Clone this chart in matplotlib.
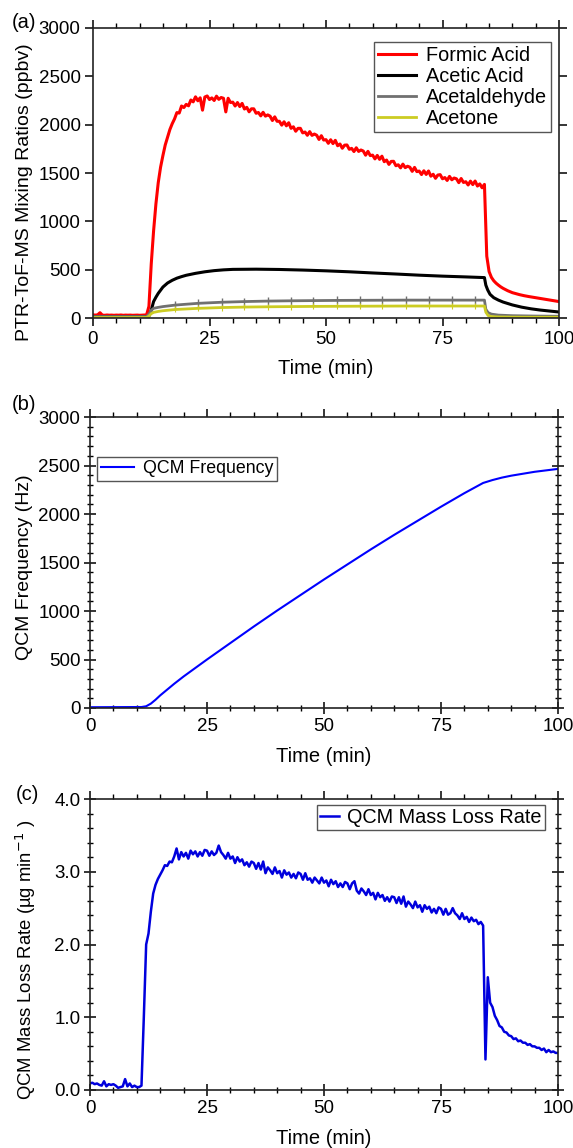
import numpy as np
import matplotlib
matplotlib.use("Agg")
import matplotlib.pyplot as plt
from matplotlib.ticker import MultipleLocator, FormatStrFormatter

plt.rcParams['font.family'] = ['Liberation Sans', 'DejaVu Sans']
FS_TICK = 13.5
FS_LAB = 14.5
FS_LEG = 14.3

# ---------------- Panel (a) data ----------------
time_fine = np.arange(0, 100.01, 0.5)   # 0.5-min grid, 201 points

formic = [
    32, 30, 33, 55, 30, 28, 31, 29, 30, 28,
    30, 29, 31, 28, 30, 29, 30, 28, 29, 30,
    28, 29, 30, 32, 120, 560, 900, 1180, 1400, 1560,
    1680, 1790, 1870, 1950, 2010, 2060, 2125, 2120, 2193, 2177,
    2210, 2195, 2255, 2236, 2288, 2247, 2278, 2150, 2286, 2297,
    2260, 2277, 2250, 2295, 2262, 2281, 2273, 2132, 2273, 2229,
    2233, 2193, 2229, 2187, 2220, 2162, 2179, 2133, 2164, 2164,
    2118, 2126, 2091, 2128, 2088, 2101, 2088, 2043, 2081, 2035,
    2035, 1995, 2030, 1988, 2020, 1962, 1978, 1932, 1962, 1962,
    1915, 1924, 1890, 1928, 1889, 1903, 1891, 1847, 1886, 1841,
    1845, 1807, 1844, 1804, 1838, 1782, 1800, 1756, 1788, 1790,
    1745, 1755, 1722, 1761, 1723, 1738, 1727, 1684, 1724, 1680,
    1685, 1646, 1682, 1641, 1674, 1617, 1634, 1589, 1620, 1621,
    1575, 1585, 1553, 1592, 1555, 1570, 1560, 1517, 1558, 1514,
    1520, 1484, 1523, 1485, 1521, 1467, 1487, 1445, 1479, 1483,
    1440, 1453, 1423, 1465, 1430, 1448, 1440, 1400, 1443, 1402,
    1410, 1376, 1416, 1380, 1417, 1365, 1387, 1347, 1382, 640,
    480, 420, 385, 360, 340, 322, 307, 294, 282, 272,
    262, 255, 248, 242, 236, 231, 226, 222, 218, 214,
    210, 206, 202, 198, 194, 190, 186, 182, 178, 174,
    170,
]

acetic_time = [0, 5, 10, 11.5, 12, 12.5, 13, 13.5, 14, 15, 16, 17, 18, 19, 20,
               22, 24, 26, 28, 30, 35, 40, 45, 50, 55, 60, 65, 70, 75, 80, 84,
               84.3, 84.7, 85.2, 86, 87, 88, 90, 92, 94, 96, 98, 100]
acetic = [14, 13, 14, 14, 20, 80, 170, 215, 255, 320, 362, 390, 412, 428, 442,
          462, 478, 490, 498, 503, 505, 502, 496, 488, 478, 466, 455, 443, 433, 425, 418,
          340, 290, 245, 210, 185, 165, 135, 112, 95, 82, 72, 62]

ald_time = [0, 11.5, 12, 12.5, 13, 14, 15, 17.7, 22.6, 27.6, 32.5, 37.5, 42.4,
            47.3, 52.3, 57.2, 62.1, 67.1, 72.0, 77.0, 81.9, 84, 84.3, 84.8, 85.5,
            87, 90, 95, 100]
acetaldehyde = [15, 15, 40, 80, 100, 110, 118, 134, 152, 163, 170, 175, 178,
                180, 182, 183, 184, 185, 185, 185, 185, 185, 90, 55, 40,
                30, 24, 20, 18]
acetone = [5, 5, 20, 45, 58, 68, 75, 88, 100, 108, 113, 116, 118,
           120, 121, 122, 123, 124, 124, 124, 124, 124, 60, 25, 15,
           11, 9, 8, 8]
marker_times = [17.7, 22.6, 27.6, 32.5, 37.5, 42.4, 47.3, 52.3, 57.2, 62.1,
                67.1, 72.0, 77.0, 81.9]

# ---------------- Panel (b) data ----------------
freq_time = [0, 5, 10, 11, 12, 13, 14, 15, 16, 17, 18, 20, 25, 30, 35, 40, 45,
             50, 55, 60, 65, 70, 75, 80, 84, 86, 88, 90, 95, 100]
qcm_freq = [8, 9, 10, 10, 18, 45, 85, 130, 170, 210, 250, 325, 500, 670, 840,
            1005, 1165, 1325, 1480, 1635, 1785, 1930, 2075, 2215, 2320, 2350,
            2375, 2395, 2435, 2465]

# ---------------- Panel (c) data ----------------
mass_loss = [
    0.09, 0.10, 0.08, 0.09, 0.07, 0.06, 0.12, 0.05, 0.08, 0.07,
    0.08, 0.06, 0.03, 0.04, 0.05, 0.15, 0.05, 0.09, 0.04, 0.06,
    0.04, 0.04, 0.06, 1.00, 2.00, 2.15, 2.45, 2.70, 2.82, 2.90,
    2.96, 3.02, 3.09, 3.08, 3.14, 3.13, 3.21, 3.32, 3.17, 3.27,
    3.21, 3.26, 3.18, 3.29, 3.24, 3.28, 3.21, 3.27, 3.22, 3.30,
    3.29, 3.22, 3.28, 3.23, 3.26, 3.36, 3.27, 3.23, 3.18, 3.26,
    3.18, 3.21, 3.12, 3.20, 3.14, 3.17, 3.09, 3.13, 3.07, 3.14,
    3.12, 3.04, 3.12, 3.03, 3.14, 2.98, 3.06, 3.02, 2.97, 3.06,
    2.98, 3.01, 2.92, 3.02, 2.96, 2.99, 2.92, 2.97, 2.91, 2.99,
    2.97, 2.89, 2.98, 2.89, 2.91, 2.85, 2.92, 2.88, 2.84, 2.92,
    2.85, 2.88, 2.80, 2.89, 2.83, 2.87, 2.79, 2.84, 2.79, 2.86,
    2.84, 2.76, 2.84, 2.87, 2.74, 2.70, 2.77, 2.73, 2.68, 2.76,
    2.68, 2.71, 2.62, 2.71, 2.65, 2.68, 2.60, 2.65, 2.59, 2.66,
    2.65, 2.57, 2.65, 2.56, 2.66, 2.52, 2.59, 2.55, 2.50, 2.59,
    2.51, 2.54, 2.45, 2.54, 2.49, 2.52, 2.44, 2.49, 2.43, 2.51,
    2.49, 2.41, 2.49, 2.41, 2.43, 2.50, 2.43, 2.40, 2.35, 2.43,
    2.35, 2.38, 2.31, 2.37, 2.32, 2.34, 2.28, 2.31, 2.26, 0.42,
    1.55, 1.20, 1.14, 1.02, 0.96, 0.88, 0.86, 0.80, 0.79, 0.75,
    0.74, 0.70, 0.71, 0.67, 0.68, 0.65, 0.65, 0.62, 0.63, 0.60,
    0.60, 0.58, 0.58, 0.55, 0.57, 0.52, 0.55, 0.52, 0.53, 0.51,
    0.51,
]

W, H = 573, 1148
fig = plt.figure(figsize=(W / 100, H / 100), dpi=100)


def ax_at(x0, y0, x1, y1):
    return fig.add_axes([x0 / W, 1 - y1 / H, (x1 - x0) / W, (y1 - y0) / H])


def style_spines(ax):
    for s in ax.spines.values():
        s.set_linewidth(1.2)
        s.set_color('#222222')


# ---------------- Panel (a) ----------------
axa = ax_at(93, 28, 559, 318)
axa.plot(time_fine, formic, color='#ff0000', lw=2.2, label='Formic Acid')
axa.plot(acetic_time, acetic, color='black', lw=2.2, label='Acetic Acid')
mk = [i for i, t in enumerate(ald_time) if t in marker_times]
axa.plot(ald_time, acetaldehyde, color='#707070', lw=2.0, marker='|', ms=6,
         mew=1.0, markevery=mk, label='Acetaldehyde')
axa.plot(ald_time, acetone, color='#cccc22', lw=2.0, marker='|', ms=5,
         mew=0.8, markevery=mk, label='Acetone')
axa.set_xlim(0, 100)
axa.set_ylim(0, 3000)
axa.xaxis.set_major_locator(MultipleLocator(25))
axa.xaxis.set_minor_locator(MultipleLocator(5))
axa.yaxis.set_major_locator(MultipleLocator(500))
axa.tick_params(axis='both', which='major', direction='out', length=6, width=1.1,
                labelsize=FS_TICK, top=True, right=True, pad=3)
axa.tick_params(axis='x', which='minor', direction='out', length=3.5, width=1.0,
                top=True, bottom=True)
axa.set_xlabel('Time (min)', fontsize=FS_LAB, labelpad=8)
axa.set_ylabel('PTR-ToF-MS Mixing Ratios (ppbv)', fontsize=14.0)
axa.yaxis.set_label_coords((33 - 93) / 466, 1 - (192 - 28) / 290)
style_spines(axa)
leg = axa.legend(loc='upper right', bbox_to_anchor=(0.983, 0.952), fontsize=FS_LEG,
                 handlelength=1.9, handletextpad=0.5, labelspacing=0.1,
                 borderpad=0.2, borderaxespad=0, fancybox=False, framealpha=1,
                 edgecolor='#555555')
for l in leg.get_lines():
    l.set_marker('')
fig.text(12 / W, 1 - 22 / H, '(a)', fontsize=FS_LAB, va='center', ha='left')

# ---------------- Panel (b) ----------------
axb = ax_at(90, 417, 558, 708)
axb.plot(freq_time, qcm_freq, color='#0000ff', lw=1.5, label='QCM Frequency')
axb.set_xlim(0, 100)
axb.set_ylim(0, 3000)
axb.xaxis.set_major_locator(MultipleLocator(25))
axb.xaxis.set_minor_locator(MultipleLocator(5))
axb.yaxis.set_major_locator(MultipleLocator(500))
axb.yaxis.set_minor_locator(MultipleLocator(100))
axb.set_xlabel('Time (min)', fontsize=FS_LAB, labelpad=9)
axb.set_ylabel('QCM Frequency (Hz)', fontsize=14.0)
axb.yaxis.set_label_coords((33 - 90) / 468, 1 - (567 - 417) / 291)
style_spines(axb)
leg = axb.legend(loc='upper left', bbox_to_anchor=(0.015, 0.863), fontsize=12.8,
                 handlelength=1.9, handletextpad=0.5, borderpad=0.2,
                 borderaxespad=0, fancybox=False, framealpha=1,
                 edgecolor='#555555')
fig.text(12 / W, 1 - 404 / H, '(b)', fontsize=FS_LAB, va='center', ha='left')

# ---------------- Panel (c) ----------------
axc = ax_at(90, 799, 558, 1090)
axc.plot(time_fine, mass_loss, color='#0000dd', lw=1.8, label='QCM Mass Loss Rate')
axc.set_xlim(0, 100)
axc.set_ylim(0, 4)
axc.xaxis.set_major_locator(MultipleLocator(25))
axc.xaxis.set_minor_locator(MultipleLocator(5))
axc.yaxis.set_major_locator(MultipleLocator(1.0))
axc.yaxis.set_minor_locator(MultipleLocator(0.2))
axc.yaxis.set_major_formatter(FormatStrFormatter('%.1f'))
axc.set_xlabel('Time (min)', fontsize=FS_LAB, labelpad=9)
axc.set_ylabel('QCM Mass Loss Rate (µg min$^{-1}$ )', fontsize=13.3)
axc.yaxis.set_label_coords((38 - 90) / 468, 1 - (960 - 799) / 291)
style_spines(axc)
leg = axc.legend(loc='upper right', bbox_to_anchor=(0.972, 0.979), fontsize=FS_LEG,
                 handlelength=1.0, handletextpad=0.4, borderpad=0.15,
                 borderaxespad=0, fancybox=False, framealpha=1,
                 edgecolor='#555555')
fig.text(16 / W, 1 - 795 / H, '(c)', fontsize=FS_LAB, va='center', ha='left')

for ax in (axb, axc):
    ax.tick_params(axis='both', which='major', length=8, width=1.1,
                   labelsize=FS_TICK, direction='inout', top=True, right=True,
                   pad=3)
    ax.tick_params(axis='both', which='minor', length=5, width=1.0,
                   direction='inout', top=True, right=True)
    for t in ax.xaxis.get_major_ticks():
        t.tick2line.set_marker(matplotlib.lines.TICKUP)
        t.tick2line.set_markersize(6)
    for t in ax.xaxis.get_minor_ticks():
        t.tick2line.set_marker(matplotlib.lines.TICKUP)
        t.tick2line.set_markersize(3.5)

fig.savefig('out.png', dpi=100)
